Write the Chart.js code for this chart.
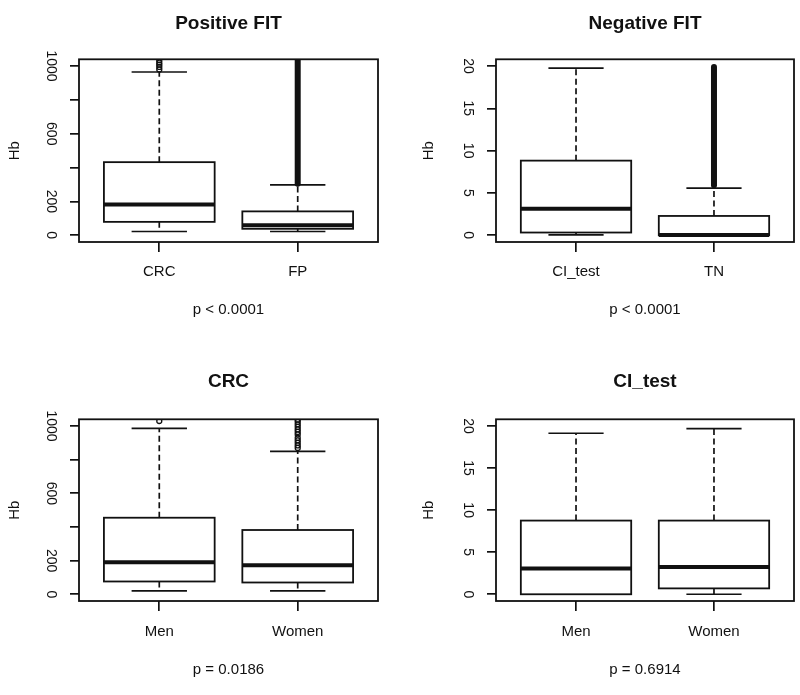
<!DOCTYPE html>
<html>
<head>
<meta charset="utf-8">
<script src="https://cdn.jsdelivr.net/npm/chart.js@4.4.1/dist/chart.umd.min.js"></script>
<style>
  body { margin: 0; background: #fff; }
  #wrap { position: relative; width: 800px; height: 695px; }
  canvas { position: absolute; }
</style>
</head>
<body>
<div id="wrap">
  <canvas id="c1" width="400" height="347" style="left:0;top:0"></canvas>
  <canvas id="c2" width="400" height="347" style="left:400px;top:0"></canvas>
  <canvas id="c3" width="400" height="348" style="left:0;top:347px"></canvas>
  <canvas id="c4" width="400" height="348" style="left:400px;top:347px"></canvas>
</div>
<script>
// tick values / labels (R drops the labels that would overlap)
const hbTicksBig = [0, 200, 400, 600, 800, 1000];
const hbLabelsBig = ['0', '200', '', '600', '', '1000'];
const hbTicksSmall = [0, 5, 10, 15, 20];
const hbLabelsSmall = ['0', '5', '10', '15', '20'];

// Positive FIT
const posGroups = ['CRC', 'FP'];
const posLow = [22, 22];
const posQ1 = [79, 38];
const posMedian = [181, 59];
const posQ3 = [432, 141];
const posHigh = [965, 298];
const posOutliers = [[980, 995, 1008, 1020, 1035], []];
const posOutlierRuns = [null, [305, 1050]];   // dense run of outliers, drawn as a solid column

// Negative FIT
const negGroups = ['CI_test', 'TN'];
const negLow = [0.05, 0];
const negQ1 = [0.32, 0];
const negMedian = [3.14, 0.02];
const negQ3 = [8.82, 2.28];
const negHigh = [19.76, 5.57];
const negOutliers = [[], []];
const negOutlierRuns = [null, [5.9, 19.9]];

// CRC by sex
const crcGroups = ['Men', 'Women'];
const crcLow = [20, 20];
const crcQ1 = [76, 70];
const crcMedian = [190, 172];
const crcQ3 = [455, 382];
const crcHigh = [986, 849];
const crcOutliers = [[1030], [870, 885, 900, 915, 930, 950, 965, 980, 995, 1010, 1025, 1038]];
const crcOutlierRuns = [null, null];

// CI_test by sex
const ciGroups = ['Men', 'Women'];
const ciLow = [0, 0];
const ciQ1 = [0, 0.7];
const ciMedian = [3.06, 3.25];
const ciQ3 = [8.76, 8.76];
const ciHigh = [19.14, 19.7];
const ciOutliers = [[], []];
const ciOutlierRuns = [null, null];

const ink = '#111';
Chart.defaults.font.family = '"Liberation Sans", Arial, sans-serif';
Chart.defaults.color = ink;

function drawBoxes(chart, p) {
  const { ctx, chartArea: a, scales: { x, y } } = chart;
  ctx.save();
  ctx.beginPath();
  ctx.rect(a.left, a.top, a.width, a.height);
  ctx.clip();
  ctx.strokeStyle = ink;
  const seg = (x0, y0, x1, y1) => { ctx.beginPath(); ctx.moveTo(x0, y0); ctx.lineTo(x1, y1); ctx.stroke(); };
  p.groups.forEach((g, i) => {
    const c = i + 1;
    const xc = x.getPixelForValue(c);
    const xl = x.getPixelForValue(c - 0.4), xr = x.getPixelForValue(c + 0.4);
    const sl = x.getPixelForValue(c - 0.2), sr = x.getPixelForValue(c + 0.2);
    const yLo = y.getPixelForValue(p.low[i]), yHi = y.getPixelForValue(p.high[i]);
    const yQ1 = y.getPixelForValue(p.q1[i]), yQ3 = y.getPixelForValue(p.q3[i]);
    const yMed = y.getPixelForValue(p.median[i]);
    // whiskers
    ctx.lineWidth = 1.7;
    ctx.setLineDash([6, 3.5]);
    seg(xc, yQ3, xc, yHi);
    seg(xc, yQ1, xc, yLo);
    ctx.setLineDash([]);
    seg(sl, yHi, sr, yHi);
    seg(sl, yLo, sr, yLo);
    // box
    ctx.fillStyle = '#fff';
    ctx.fillRect(xl, yQ3, xr - xl, yQ1 - yQ3);
    ctx.lineWidth = 1.8;
    ctx.strokeRect(xl, yQ3, xr - xl, yQ1 - yQ3);
    // median
    ctx.lineWidth = 4;
    seg(xl, yMed, xr, yMed);
  });
  ctx.restore();
}

function makePanel(id, p, lay) {
  const pts = [];
  p.outliers.forEach((list, i) => list.forEach(v => pts.push({ x: i + 1, y: v })));
  const datasets = [{
    type: 'scatter',
    data: pts,
    pointRadius: 2.5,
    borderWidth: 1.3,
    borderColor: ink,
    backgroundColor: 'rgba(0,0,0,0)',
    clip: 0
  }];
  p.runs.forEach((r, i) => {
    if (!r) return;
    datasets.push({
      type: 'line',
      data: [{ x: i + 1, y: r[0] }, { x: i + 1, y: r[1] }],
      borderColor: ink,
      borderWidth: 6,
      borderCapStyle: 'round',
      pointRadius: 0,
      clip: 0
    });
  });

  new Chart(document.getElementById(id), {
    type: 'scatter',
    data: { datasets },
    options: {
      responsive: false,
      animation: false,
      events: [],
      layout: { padding: { left: 0, right: lay.right, top: 0, bottom: 0 } },
      plugins: {
        legend: { display: false },
        tooltip: { enabled: false },
        title: {
          display: true,
          text: p.title,
          fullSize: false,
          color: ink,
          font: { size: 19, weight: 'bold' },
          padding: lay.titlePad
        }
      },
      scales: {
        x: {
          type: 'linear',
          min: 0.42,
          max: 2.58,
          afterBuildTicks: s => { s.ticks = p.groups.map((g, i) => ({ value: i + 1 })); },
          afterFit: s => { s.height = lay.xh; },
          border: { display: false },
          grid: { drawOnChartArea: false, tickLength: 10, color: ink, lineWidth: 1.7 },
          ticks: {
            autoSkip: false, maxRotation: 0, padding: lay.xpad,
            font: { size: 15 }, color: ink,
            callback: (v, i) => p.groups[i]
          },
          title: { display: true, text: p.pText, color: ink, font: { size: 15 }, padding: { top: 0, bottom: lay.pb } }
        },
        y: {
          type: 'linear',
          min: p.yMin,
          max: p.yMax,
          afterBuildTicks: s => { s.ticks = p.yTicks.map(v => ({ value: v })); },
          afterFit: s => { s.width = lay.yw; },
          border: { display: false },
          grid: { drawOnChartArea: false, tickLength: 9, color: ink, lineWidth: 1.7 },
          ticks: {
            autoSkip: false, minRotation: -90, maxRotation: -90, crossAlign: 'center',
            padding: lay.ypad, font: { size: 14 }, color: ink,
            callback: (v, i) => p.yLabels[i]
          },
          title: { display: true, text: 'Hb', color: ink, font: { size: 15 }, padding: { top: lay.hbpad, bottom: 0 } }
        }
      }
    },
    plugins: [{
      id: 'boxes',
      beforeDatasetsDraw(chart) { drawBoxes(chart, p); },
      afterDatasetsDraw(chart) {
        const { ctx, chartArea: a } = chart;
        ctx.save();
        ctx.strokeStyle = ink;
        ctx.lineWidth = 1.8;
        ctx.strokeRect(a.left, a.top, a.width, a.height);
        ctx.restore();
      }
    }]
  });
}

const topLeft = { right: 22, yw: 79, ypad: 4, hbpad: 6, xh: 105, xpad: 11.3, pb: 28, titlePad: { top: 12, bottom: 24.5 } };
const topRight = { right: 6, yw: 96, ypad: 11, hbpad: 20, xh: 105, xpad: 11.3, pb: 28, titlePad: { top: 12, bottom: 24.5 } };
const botLeft = { right: 22, yw: 79, ypad: 4, hbpad: 6, xh: 94, xpad: 11.7, pb: 16, titlePad: { top: 23.3, bottom: 26.2 } };
const botRight = { right: 6, yw: 96, ypad: 11, hbpad: 20, xh: 94, xpad: 11.7, pb: 16, titlePad: { top: 23.3, bottom: 26.2 } };

makePanel('c1', {
  title: 'Positive FIT', pText: 'p < 0.0001', groups: posGroups,
  low: posLow, q1: posQ1, median: posMedian, q3: posQ3, high: posHigh,
  outliers: posOutliers, runs: posOutlierRuns,
  yMin: -40, yMax: 1040, yTicks: hbTicksBig, yLabels: hbLabelsBig
}, topLeft);

makePanel('c2', {
  title: 'Negative FIT', pText: 'p < 0.0001', groups: negGroups,
  low: negLow, q1: negQ1, median: negMedian, q3: negQ3, high: negHigh,
  outliers: negOutliers, runs: negOutlierRuns,
  yMin: -0.8, yMax: 20.8, yTicks: hbTicksSmall, yLabels: hbLabelsSmall
}, topRight);

makePanel('c3', {
  title: 'CRC', pText: 'p = 0.0186', groups: crcGroups,
  low: crcLow, q1: crcQ1, median: crcMedian, q3: crcQ3, high: crcHigh,
  outliers: crcOutliers, runs: crcOutlierRuns,
  yMin: -40, yMax: 1040, yTicks: hbTicksBig, yLabels: hbLabelsBig
}, botLeft);

makePanel('c4', {
  title: 'CI_test', pText: 'p = 0.6914', groups: ciGroups,
  low: ciLow, q1: ciQ1, median: ciMedian, q3: ciQ3, high: ciHigh,
  outliers: ciOutliers, runs: ciOutlierRuns,
  yMin: -0.8, yMax: 20.8, yTicks: hbTicksSmall, yLabels: hbLabelsSmall
}, botRight);
</script>
</body>
</html>
